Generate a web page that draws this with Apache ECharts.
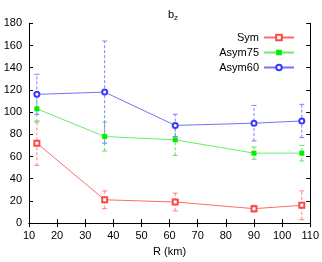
<!DOCTYPE html>
<html><head><meta charset="utf-8">
<script src="https://cdn.jsdelivr.net/npm/echarts@6/dist/echarts.min.js"></script>
<style>html,body{margin:0;padding:0;background:#fff}#c{width:322px;height:262px}</style>
</head><body><div id="c"></div>
<script>
var R = [12.8, 36.9, 62, 90, 107];
var sym = [72, 21, 19, 13, 16];
var symErr = [20, 8, 8, 3, 13];
var asym75 = [103, 78, 75, 63, 63];
var asym75Err = [12, 13, 14, 5.5, 7];
var asym60 = [116, 118, 88, 90, 92];
var asym60Err = [18, 46, 10, 16, 15];
var names = ['Sym', 'Asym75', 'Asym60'];
var xTicks = [10, 20, 30, 40, 50, 60, 70, 80, 90, 100, 110];
var yTicks = [0, 20, 40, 60, 80, 100, 120, 140, 160, 180];

var FONT = 'Liberation Sans';
function pts(v) { return R.map(function (r, i) { return [r, v[i]]; }); }
function errs(v, e) { return R.map(function (r, i) { return [r, v[i] - e[i], v[i] + e[i]]; }); }
function errSeries(v, e, color) {
  return {
    type: 'custom', data: errs(v, e), z: 1, silent: true,
    renderItem: function (params, api) {
      var x = api.value(0), lo = api.coord([x, api.value(1)]), hi = api.coord([x, api.value(2)]);
      var w = 2.5;
      var st = { stroke: color, lineWidth: 1, lineDash: [3, 2] };
      var cs = { stroke: color, lineWidth: 1 };
      return { type: 'group', children: [
        { type: 'line', shape: { x1: lo[0], y1: lo[1], x2: hi[0], y2: hi[1] }, style: st },
        { type: 'line', shape: { x1: lo[0] - w, y1: lo[1], x2: lo[0] + w, y2: lo[1] }, style: cs },
        { type: 'line', shape: { x1: hi[0] - w, y1: hi[1], x2: hi[0] + w, y2: hi[1] }, style: cs }
      ]};
    }
  };
}
var axLine = { show: true, lineStyle: { color: '#000', width: 1 } };
var tickIn = { show: true, inside: true, length: 4, lineStyle: { color: '#000' } };
var chart = echarts.init(document.getElementById('c'));
chart.setOption({
  animation: false,
  textStyle: { fontFamily: FONT },
  title: {
    text: 'b{s|z}', left: 168, top: 3, textAlign: 'center',
    textStyle: { fontFamily: FONT, fontSize: 11, fontWeight: 'normal', color: '#000',
      rich: { s: { fontSize: 8, verticalAlign: 'bottom', padding: [6, 0, 0, 0], fontFamily: FONT } } }
  },
  legend: {
    data: names, orient: 'vertical', right: 22, top: 27, align: 'right',
    itemWidth: 30, itemHeight: 7, itemGap: 4,
    textStyle: { fontFamily: FONT, fontSize: 11, color: '#000' }
  },
  grid: { left: 29, right: 11.5, top: 23.3, bottom: 37, containLabel: false },
  xAxis: [
    { type: 'value', min: 10, max: 110, interval: 10, name: 'R (km)', nameLocation: 'middle', nameGap: 21,
      nameTextStyle: { fontFamily: FONT, fontSize: 11, color: '#000' },
      axisLine: axLine, axisTick: tickIn, splitLine: { show: false },
      axisLabel: { fontFamily: FONT, fontSize: 11, color: '#000', margin: 7,
        formatter: function (v) { return xTicks.indexOf(v) >= 0 ? String(v) : ''; } } },
    { type: 'value', position: 'top', min: 10, max: 110, interval: 10,
      axisLine: axLine, axisTick: tickIn, axisLabel: { show: false }, splitLine: { show: false } }
  ],
  yAxis: [
    { type: 'value', min: 0, max: 180, interval: 20,
      axisLine: axLine, axisTick: tickIn, splitLine: { show: false },
      axisLabel: { fontFamily: FONT, fontSize: 11, color: '#000', margin: 7,
        formatter: function (v) { return yTicks.indexOf(v) >= 0 ? String(v) : ''; } } },
    { type: 'value', position: 'right', min: 0, max: 180, interval: 20,
      axisLine: axLine, axisTick: tickIn, axisLabel: { show: false }, splitLine: { show: false } }
  ],
  series: [
    errSeries(sym, symErr, '#ff8080'),
    errSeries(asym75, asym75Err, '#66dd66'),
    errSeries(asym60, asym60Err, '#7f7fff'),
    { name: 'Sym', type: 'line', data: pts(sym), symbol: 'emptyRect', symbolSize: 5, z: 3,
      itemStyle: { color: '#ff4848', borderWidth: 1 }, lineStyle: { color: '#ff6a6a', width: 1 } },
    { name: 'Asym75', type: 'line', data: pts(asym75), symbol: 'rect', symbolSize: 5, z: 3,
      itemStyle: { color: '#00ee00' }, lineStyle: { color: '#66ee66', width: 1 } },
    { name: 'Asym60', type: 'line', data: pts(asym60), symbol: 'emptyCircle', symbolSize: 5, z: 3,
      itemStyle: { color: '#3a3aff', borderWidth: 1.5 }, lineStyle: { color: '#7272ff', width: 1 } }
  ]
});
</script></body></html>
